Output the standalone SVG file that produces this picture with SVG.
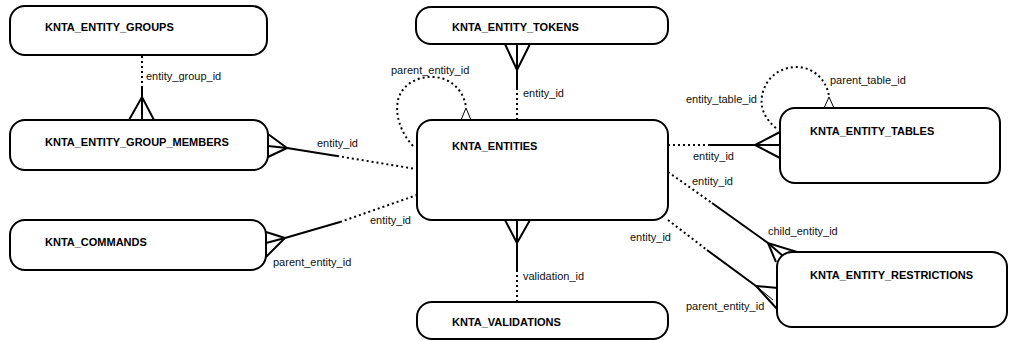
<svg xmlns="http://www.w3.org/2000/svg" width="1009" height="341" viewBox="0 0 1009 341">
<style>
.box{fill:#fff;stroke:#000;stroke-width:2}
.title{font-family:"Liberation Sans",Arial,sans-serif;font-size:11px;font-weight:bold;fill:#000}
.lbl{font-family:"Liberation Sans",Arial,sans-serif;font-size:11px;fill:#111}
.solid{fill:none;stroke:#000;stroke-width:2}
.thin{fill:none;stroke:#000;stroke-width:1}
.dot{fill:none;stroke:#000;stroke-width:2;stroke-dasharray:2 3}
</style>
<rect width="1009" height="341" fill="#fff"/>
<g id="connectors">
  <g id="c-groups-members">
    <line class="dot" x1="142" y1="56" x2="142" y2="86"/>
    <line class="solid" x1="142" y1="86" x2="142" y2="120"/>
    <polyline class="solid" points="129,120 142,97 154,120"/>
    <text class="lbl" x="146" y="80">entity_group_id</text>
  </g>
  <g id="c-members-entities">
    <polyline class="solid" points="268,134 287,148 268,157"/>
    <line class="solid" x1="268" y1="146" x2="287" y2="148"/>
    <line class="solid" x1="287" y1="148" x2="337" y2="156"/>
    <line class="dot" x1="337" y1="156" x2="416" y2="169"/>
    <text class="lbl" x="317" y="147">entity_id</text>
  </g>
  <g id="c-commands-entities">
    <polyline class="solid" points="266,232 285,238 266,257"/>
    <line class="solid" x1="266" y1="243" x2="285" y2="238"/>
    <line class="solid" x1="285" y1="238" x2="340" y2="222"/>
    <line class="dot" x1="340" y1="222" x2="417" y2="195"/>
    <text class="lbl" x="370" y="224">entity_id</text>
    <text class="lbl" x="273" y="266">parent_entity_id</text>
  </g>
  <g id="c-tokens-entities">
    <polyline class="solid" points="505,44 517,70 530,44"/>
    <line class="solid" x1="517" y1="44" x2="517" y2="88"/>
    <line class="dot" x1="517" y1="88" x2="517" y2="120"/>
    <text class="lbl" x="523" y="97">entity_id</text>
  </g>
  <g id="c-entities-validations">
    <polyline class="solid" points="505,220 517,243 530,220"/>
    <line class="solid" x1="517" y1="220" x2="517" y2="270"/>
    <line class="dot" x1="517" y1="270" x2="517" y2="302"/>
    <text class="lbl" x="523" y="280">validation_id</text>
  </g>
  <g id="c-entities-self">
    <path class="dot" d="M 413 146 C 400 132, 395 114, 398 100 C 402 84, 418 76, 434 77 C 452 78, 464 92, 466 107"/>
    <polygon class="thin" points="461,120 466,108 471,120" fill="#fff" stroke-width="1.5"/>
    <text class="lbl" x="391" y="74">parent_entity_id</text>
  </g>
  <g id="c-entities-tables">
    <line class="dot" x1="668" y1="145" x2="710" y2="145"/>
    <line class="solid" x1="710" y1="145" x2="780" y2="145"/>
    <polyline class="solid" points="780,132 755,145 780,158"/>
    <text class="lbl" x="693" y="160">entity_id</text>
  </g>
  <g id="c-tables-self">
    <path class="dot" d="M 776 128 C 765 119, 760 108, 762 96 C 765 78, 780 67, 796 67 C 812 67, 826 78, 829 96"/>
    <polygon class="thin" points="824,108 829,97 834,108" fill="#fff" stroke-width="1.5"/>
    <text class="lbl" x="830" y="84">parent_table_id</text>
    <text class="lbl" x="686" y="103">entity_table_id</text>
  </g>
  <g id="c-entities-restr-child">
    <line class="dot" x1="668" y1="172" x2="712" y2="203"/>
    <line class="solid" x1="712" y1="203" x2="768" y2="243"/>
    <polyline class="solid" points="797,252 768,243 776,262"/>
    <line class="solid" x1="768" y1="243" x2="783" y2="256"/>
    <text class="lbl" x="692" y="185">entity_id</text>
    <text class="lbl" x="768" y="235">child_entity_id</text>
  </g>
  <g id="c-entities-restr-parent">
    <line class="dot" x1="668" y1="220" x2="707" y2="250"/>
    <line class="solid" x1="707" y1="250" x2="756" y2="286"/>
    <polyline class="solid" points="778,288 756,286 778,310"/>
    <line class="thin" x1="756" y1="286" x2="773" y2="300"/>
    <text class="lbl" x="630" y="241">entity_id</text>
    <text class="lbl" x="686" y="310">parent_entity_id</text>
  </g>
</g>
<g id="KNTA_ENTITY_GROUPS">
  <rect class="box" x="10" y="6" width="257" height="49" rx="15" ry="15"/>
  <text class="title" x="45" y="31">KNTA_ENTITY_GROUPS</text>
</g>
<g id="KNTA_ENTITY_GROUP_MEMBERS">
  <rect class="box" x="10" y="120" width="258" height="50" rx="15" ry="15"/>
  <text class="title" x="45" y="146">KNTA_ENTITY_GROUP_MEMBERS</text>
</g>
<g id="KNTA_COMMANDS">
  <rect class="box" x="10" y="220" width="256" height="50" rx="15" ry="15"/>
  <text class="title" x="45" y="246">KNTA_COMMANDS</text>
</g>
<g id="KNTA_ENTITY_TOKENS">
  <rect class="box" x="416" y="7" width="252" height="37" rx="15" ry="15"/>
  <text class="title" x="452" y="31">KNTA_ENTITY_TOKENS</text>
</g>
<g id="KNTA_ENTITIES">
  <rect class="box" x="417" y="120" width="251" height="100" rx="15" ry="15"/>
  <text class="title" x="452" y="150">KNTA_ENTITIES</text>
</g>
<g id="KNTA_VALIDATIONS">
  <rect class="box" x="417" y="302" width="251" height="37" rx="15" ry="15"/>
  <text class="title" x="452" y="326">KNTA_VALIDATIONS</text>
</g>
<g id="KNTA_ENTITY_TABLES">
  <rect class="box" x="780" y="108" width="220" height="75" rx="15" ry="15"/>
  <text class="title" x="810" y="135">KNTA_ENTITY_TABLES</text>
</g>
<g id="KNTA_ENTITY_RESTRICTIONS">
  <rect class="box" x="777" y="252" width="230" height="75" rx="15" ry="15"/>
  <text class="title" x="810" y="279">KNTA_ENTITY_RESTRICTIONS</text>
</g>
</svg>
